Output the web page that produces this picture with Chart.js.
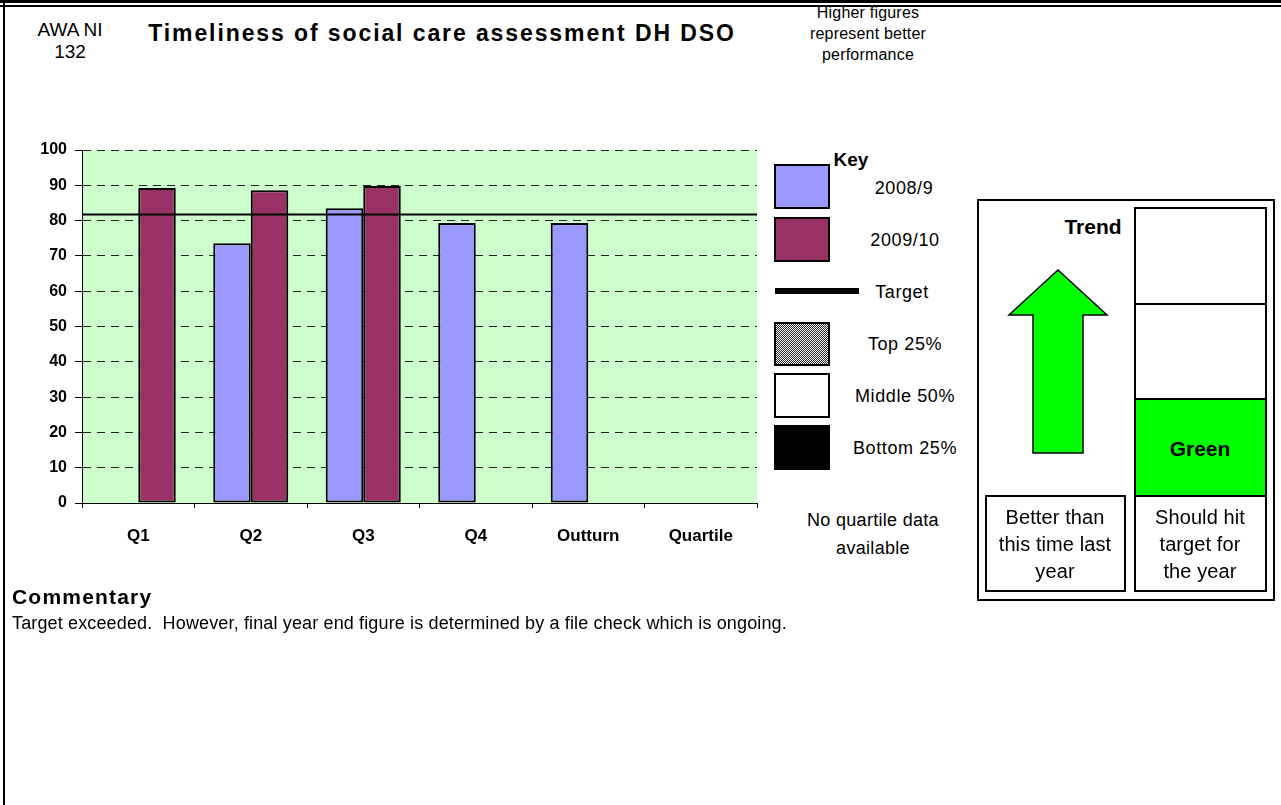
<!DOCTYPE html>
<html>
<head>
<meta charset="utf-8">
<script src="https://cdn.jsdelivr.net/npm/chart.js@4.4.1/dist/chart.umd.min.js"></script>
<style>
  body { margin: 0; width: 1281px; height: 805px; position: relative; overflow: hidden;
         background: #fff; color: #000; font-family: Arial, "Liberation Sans", sans-serif; }
  .c { position: absolute; transform: translate(-50%, -50%); text-align: center; white-space: nowrap; }
  .box { position: absolute; box-sizing: border-box; border: 2px solid #000; }
  .key { font-size: 18px; letter-spacing: 0.6px; }
  .cell { font-size: 20px; line-height: 27px; letter-spacing: 0.1px; }
  #chartWrap { position: absolute; left: 0; top: 140px; width: 762px; height: 420px; }
</style>
</head>
<body>
<!-- page frame -->
<div style="position:absolute;left:0;top:0;width:1281px;height:3px;background:#000"></div>
<div style="position:absolute;left:0;top:5px;width:1281px;height:2px;background:#000"></div>
<div style="position:absolute;left:3px;top:0;width:2px;height:805px;background:#000"></div>

<div class="c" style="left:70px;top:41px;font-size:19px;line-height:22px">AWA NI<br>132</div>
<div class="c" style="left:442px;top:33px;font-size:23px;font-weight:bold;letter-spacing:1.9px">Timeliness of social care assessment DH DSO</div>
<div class="c" style="left:868px;top:33px;font-size:16px;line-height:21px;letter-spacing:0.2px">Higher figures<br>represent better<br>performance</div>

<div id="chartWrap"><canvas id="chart"></canvas></div>

<!-- key -->
<div class="c" style="left:851px;top:160px;font-size:19px;font-weight:bold">Key</div>
<div class="box" style="left:774px;top:164px;width:56px;height:45px;background:#9999FF"></div>
<div class="c key" style="left:904px;top:188px">2008/9</div>
<div class="box" style="left:774px;top:217px;width:56px;height:45px;background:#993366"></div>
<div class="c key" style="left:905px;top:240px">2009/10</div>
<div style="position:absolute;left:775px;top:288px;width:84px;height:6px;background:#000"></div>
<div class="c key" style="left:902px;top:292px">Target</div>
<div class="box" style="left:774px;top:322px;width:56px;height:44px;background:repeating-conic-gradient(#333 0 25%, #eee 0 50%) 0 0/2px 2px"></div>
<div class="c key" style="left:905px;top:344px">Top 25%</div>
<div class="box" style="left:774px;top:373px;width:56px;height:45px;background:#fff"></div>
<div class="c key" style="left:905px;top:396px">Middle 50%</div>
<div class="box" style="left:774px;top:425px;width:56px;height:45px;background:#000"></div>
<div class="c key" style="left:905px;top:448px">Bottom 25%</div>
<div class="c" style="left:873px;top:534px;font-size:18px;line-height:28px;letter-spacing:0.3px">No quartile data<br>available</div>

<!-- trend / forecast box -->
<div class="box" style="left:977px;top:199px;width:298px;height:402px"></div>
<div class="c" style="left:1093px;top:227px;font-size:21px;font-weight:bold">Trend</div>
<svg style="position:absolute;left:0;top:0" width="1281" height="805">
  <polygon points="1058,270 1107,315 1083,315 1083,453 1033,453 1033,315 1009,315"
           fill="#00FF00" stroke="#000" stroke-width="1.5"/>
</svg>
<div class="box" style="left:1134px;top:207px;width:133px;height:98px;background:#fff"></div>
<div class="box" style="left:1134px;top:303px;width:133px;height:97px;background:#fff"></div>
<div class="box" style="left:1134px;top:398px;width:133px;height:99px;background:#00FF00"></div>
<div class="c" style="left:1200px;top:449px;font-size:21px;font-weight:bold">Green</div>
<div class="box" style="left:985px;top:495px;width:141px;height:97px"></div>
<div class="c cell" style="left:1055px;top:544px">Better than<br>this time last<br>year</div>
<div class="box" style="left:1134px;top:495px;width:133px;height:97px"></div>
<div class="c cell" style="left:1200px;top:544px">Should hit<br>target for<br>the year</div>

<!-- commentary -->
<div style="position:absolute;left:12px;top:585px;font-size:21px;font-weight:bold;letter-spacing:1.2px">Commentary</div>
<div style="position:absolute;left:12px;top:613px;font-size:18px;letter-spacing:0.14px;white-space:pre">Target exceeded.  However, final year end figure is determined by a file check which is ongoing.</div>

<script>
/* ---------- Data ---------- */
const categories = ["Q1", "Q2", "Q3", "Q4", "Outturn", "Quartile"];
const series2008 = [null, 73.6, 83.5, 79.3, 79.3, null];
const series2009 = [89.2, 88.6, 89.8, null, null, null];
const targetValue = 81.7;
const yMin = 0;
const yMax = 100;
const yStep = 10;

/* ---------- Plugins ---------- */
const plotBackground = {
  id: "plotBackground",
  beforeDraw(chart) {
    const { ctx, chartArea: a } = chart;
    ctx.save();
    ctx.fillStyle = "#CCFFCC";
    ctx.fillRect(a.left, a.top, a.right - a.left, a.bottom - a.top);
    ctx.restore();
  }
};

// target drawn across the whole plot width, positioned with the y scale
const targetLine = {
  id: "targetLine",
  afterDatasetsDraw(chart) {
    const { ctx, chartArea: a } = chart;
    const y = chart.scales.y.getPixelForValue(targetValue);
    ctx.save();
    ctx.strokeStyle = "#000";
    ctx.lineWidth = 2;
    ctx.beginPath();
    ctx.moveTo(a.left, y);
    ctx.lineTo(a.right, y);
    ctx.stroke();
    ctx.restore();
  }
};

/* ---------- Chart ---------- */
const tickFont = { family: "Arial, 'Liberation Sans', sans-serif", size: 16, weight: "bold" };

new Chart(document.getElementById("chart"), {
  type: "bar",
  data: {
    labels: categories,
    datasets: [
      {
        label: "2008/9",
        data: series2008,
        backgroundColor: "#9999FF",
        borderColor: "#000",
        borderWidth: 2,
        borderSkipped: false
      },
      {
        label: "2009/10",
        data: series2009,
        backgroundColor: "#993366",
        borderColor: "#000",
        borderWidth: 2,
        borderSkipped: false
      }
    ]
  },
  options: {
    responsive: true,
    maintainAspectRatio: false,
    animation: false,
    layout: { padding: { top: 10, right: 5, left: 0, bottom: 0 } },
    categoryPercentage: 0.667,
    barPercentage: 1.0,
    plugins: { legend: { display: false }, tooltip: { enabled: false } },
    scales: {
      x: {
        grid: { display: true, drawOnChartArea: false, drawTicks: true, tickLength: 5, color: "#000" },
        border: { display: true, color: "#000", width: 1 },
        ticks: { color: "#000", font: { ...tickFont, size: 17 }, padding: 18 },
        afterFit: (s) => { s.height = 57; s.paddingLeft = 0; s.paddingRight = 0; }
      },
      y: {
        min: yMin,
        max: yMax,
        ticks: { stepSize: yStep, color: "#000", font: tickFont, padding: 8 },
        grid: { color: "#222", lineWidth: 1, tickLength: 7, tickColor: "#000" },
        border: { display: true, color: "#000", width: 1, dash: [8, 6] },
        afterFit: (s) => { s.width = 82; s.paddingTop = 0; s.paddingBottom = 0; }
      }
    }
  },
  plugins: [plotBackground, targetLine]
});
</script>
</body>
</html>
